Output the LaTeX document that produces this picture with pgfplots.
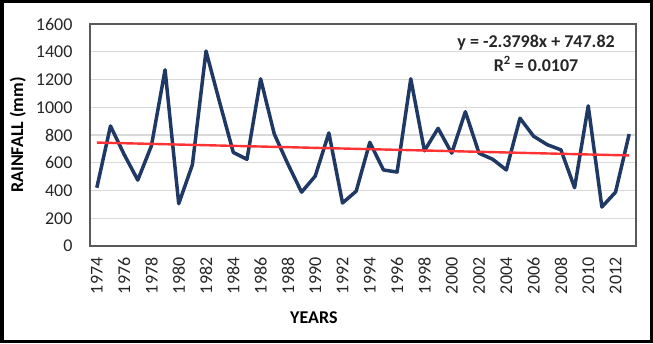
\documentclass[border=0pt]{standalone}
\usepackage{pgfplots}
\pgfplotsset{compat=1.18}
\usepackage{fontspec}
\setmainfont{Carlito}
\definecolor{navy}{HTML}{1F3864}
\definecolor{trend}{HTML}{FF3333}
\definecolor{gridc}{HTML}{D9D9D9}
\definecolor{axc}{HTML}{595959}
\begin{document}
\begin{tikzpicture}
\useasboundingbox (0pt,0pt) rectangle (653pt,343pt);
\draw[line width=3.5pt,black] (1.75pt,1.75pt) rectangle (651.25pt,341.25pt);
\begin{axis}[
  at={(90pt,97pt)}, anchor=south west,
  scale only axis, width=546pt, height=222pt,
  xmin=1973.5, xmax=2013.5, ymin=0, ymax=1600,
  xtick={1974,1976,...,2012},
  ytick={0,200,...,1600},
  major tick length=0pt,
  ymajorgrids, grid style={gridc, line width=1.2pt},
  axis line style={axc, line width=1.2pt},
  /pgf/number format/1000 sep={},
  /pgf/number format/assume math mode=true,
  tick label style={font=\fontsize{18}{21}\selectfont, text=black!85},
  yticklabel style={xshift=-14pt},
  xticklabel style={rotate=90, anchor=east, xshift=-8pt},
  xlabel={\textbf{YEARS}},
  ylabel={\textbf{RAINFALL (mm)}},
  label style={font=\fontsize{18}{21}\selectfont},
  xlabel style={at={(axis description cs:0.41,-0.324)}, anchor=center},
  ylabel style={at={(axis description cs:-0.132,0.5)}, anchor=center},
  clip=false,
]
\addplot[navy, line width=3.5pt, line join=round, mark=none] coordinates {
(1974,420) (1975,865) (1976,660) (1977,475) (1978,722) (1979,1270)
(1980,305) (1981,585) (1982,1405) (1983,1035) (1984,674) (1985,625)
(1986,1205) (1987,807) (1988,590) (1989,388) (1990,504) (1991,815)
(1992,310) (1993,395) (1994,747) (1995,548) (1996,533) (1997,1205)
(1998,686) (1999,848) (2000,669) (2001,968) (2002,669) (2003,625)
(2004,548) (2005,921) (2006,791) (2007,730) (2008,693) (2009,420)
(2010,1010) (2011,281) (2012,388) (2013,807)
};
\addplot[trend, line width=2.4pt, mark=none] coordinates {
(1974,745.44) (2013,652.63)
};
\node[align=center, font=\fontsize{18}{24}\selectfont\bfseries, text=black!85]
  at (rel axis cs:0.817,0.869) {y = -2.3798x + 747.82\\R\textsuperscript{2} = 0.0107};
\end{axis}
\end{tikzpicture}
\end{document}
